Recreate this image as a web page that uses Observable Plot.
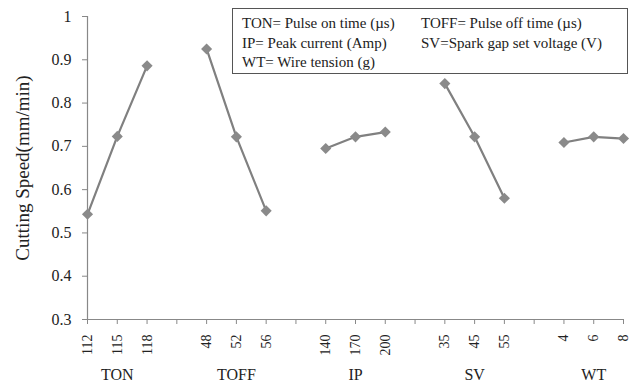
<!DOCTYPE html>
<html>
<head>
<meta charset="utf-8">
<script src="https://cdn.jsdelivr.net/npm/d3@7"></script>
<script src="https://cdn.jsdelivr.net/npm/@observablehq/plot@0.6"></script>
<style>
  html, body { margin: 0; padding: 0; background: #fff; }
  #wrap { position: relative; width: 632px; height: 390px; }
  #wrap svg, #wrap svg text { font-family: "Liberation Serif", "Times New Roman", serif !important; }
  #legend {
    position: absolute; left: 232px; top: 8px; width: 394px; height: 64px;
    border: 1.5px solid #555; background: #fff; box-sizing: content-box;
    font-family: "Liberation Serif", "Times New Roman", serif; font-size: 15px; color: #222; line-height: 20px;
  }
  #legend .row { position: absolute; white-space: nowrap; }
</style>
</head>
<body>
<div id="wrap"></div>
<script>
// ---- data ----
const factors = ["TON", "TOFF", "IP", "SV", "WT"];
const levelTON = ["112", "115", "118"];
const levelTOFF = ["48", "52", "56"];
const levelIP = ["140", "170", "200"];
const levelSV = ["35", "45", "55"];
const levelWT = ["4", "6", "8"];
const speedTON = [0.543, 0.723, 0.886];
const speedTOFF = [0.925, 0.722, 0.551];
const speedIP = [0.695, 0.722, 0.733];
const speedSV = [0.845, 0.722, 0.580];
const speedWT = [0.709, 0.722, 0.718];
const yTicks = [0.3, 0.4, 0.5, 0.6, 0.7, 0.8, 0.9, 1];
const legendLines = [
  ["TON= Pulse on time (\u00b5s)", "TOFF= Pulse off time (\u00b5s)"],
  ["IP= Peak current (Amp)", "SV=Spark gap set voltage (V)"],
  ["WT= Wire tension (g)", ""]
];

const levels = [levelTON, levelTOFF, levelIP, levelSV, levelWT];
const speeds = [speedTON, speedTOFF, speedIP, speedSV, speedWT];

// table: each factor takes 3 slots, then one empty slot
const rows = [];
factors.forEach((f, g) => {
  levels[g].forEach((lv, j) => {
    rows.push({factor: f, level: lv, pos: g * 4 + j, speed: speeds[g][j]});
  });
});
const tickLabel = new Map(rows.map(d => [d.pos, d.level]));
const allPos = d3.range(0, factors.length * 4 - 1);

const serif = "'Liberation Serif', 'Times New Roman', serif";

const chart = Plot.plot({
  width: 632,
  height: 390,
  marginLeft: 87,
  marginRight: 9,
  marginTop: 16,
  marginBottom: 71,
  style: {fontFamily: serif, color: "#222", background: "#fff"},
  x: {domain: [0, allPos.length - 1]},
  y: {domain: [0.3, 1]},
  marks: [
    Plot.axisY({
      ticks: yTicks, tickFormat: d => String(+d.toFixed(1)),
      tickSize: 5, tickPadding: 11, fontSize: 16, stroke: "#888",
      label: "Cutting Speed(mm/min)", labelAnchor: "center", labelArrow: "none",
      labelOffset: 72
    }),
    Plot.ruleX([0], {stroke: "#888", strokeWidth: 1.2}),
    Plot.ruleY([0.3], {stroke: "#888", strokeWidth: 1.2}),
    Plot.axisX({
      ticks: allPos, tickFormat: d => tickLabel.get(d) ?? "",
      tickSize: 5, tickPadding: 10, tickRotate: -90, fontSize: 14,
      stroke: "#888", label: null
    }),
    Plot.text(factors, {
      x: (d, i) => i * 4 + 1, frameAnchor: "bottom", dy: 60,
      text: d => d, fontSize: 16, fill: "#222"
    }),
    Plot.line(rows, {x: "pos", y: "speed", z: "factor", stroke: "#808080", strokeWidth: 2.2}),
    Plot.dot(rows, {x: "pos", y: "speed", symbol: "diamond2", r: 5, fill: "#8a8a8a", stroke: "none"})
  ]
});
const wrap = document.getElementById("wrap");
wrap.appendChild(chart);
const lab = chart.querySelector('[aria-label="y-axis label"]');
if (lab) lab.setAttribute("font-size", "19");

// legend box
const leg = document.createElement("div");
leg.id = "legend";
legendLines.forEach((pair, r) => {
  pair.forEach((txt, c) => {
    if (!txt) return;
    const s = document.createElement("div");
    s.className = "row";
    s.textContent = txt;
    s.style.left = (c === 0 ? 9 : 188) + "px";
    s.style.top = (4 + r * 19.5) + "px";
    leg.appendChild(s);
  });
});
wrap.appendChild(leg);
</script>
</body>
</html>
